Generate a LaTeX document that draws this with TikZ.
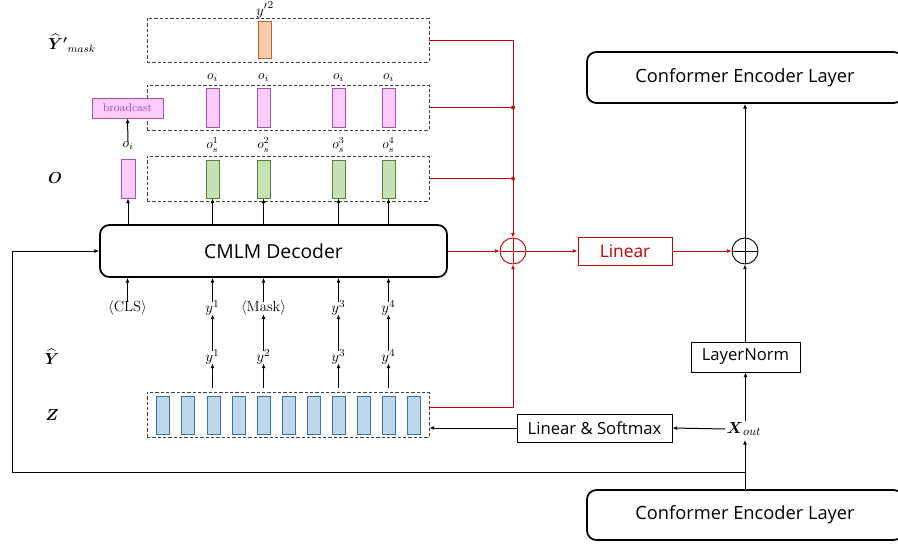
\documentclass[tikz,border=0pt]{standalone}
\usepackage{amsmath}
\usepackage{fontspec}
\setsansfont{Open Sans}
\usetikzlibrary{arrows.meta}
\definecolor{redl}{HTML}{C00000}
\definecolor{pinkF}{HTML}{FFCCFF}
\definecolor{pinkB}{HTML}{A050C8}
\definecolor{greenF}{HTML}{C5E0B4}
\definecolor{greenB}{HTML}{548235}
\definecolor{blueF}{HTML}{BDD7EE}
\definecolor{blueB}{HTML}{41719C}
\definecolor{orangeF}{HTML}{F8CBAD}
\definecolor{orangeB}{HTML}{B5642A}
\begin{document}
\begin{tikzpicture}[x=0.75pt,y=-0.75pt,
  >={Latex[length=3.5pt,width=3pt]},
  bar/.style={draw, line width=0.7pt, minimum width=13*0.75pt, minimum height=38*0.75pt, inner sep=0pt},
  pinkbar/.style={bar, fill=pinkF, draw=pinkB},
  greenbar/.style={bar, fill=greenF, draw=greenB},
  bluebar/.style={bar, fill=blueF, draw=blueB},
  orangebar/.style={bar, fill=orangeF, draw=orangeB, minimum height=37*0.75pt},
  dbox/.style={draw=black!75, dash pattern=on 2.5pt off 1.5pt, line width=0.6pt, minimum width=282*0.75pt, minimum height=45*0.75pt, inner sep=0pt},
  bigbox/.style={draw, line width=1.3pt, rounded corners=7pt, inner sep=0pt, font=\sffamily\fontsize{13.7}{16}\selectfont},
  plainbox/.style={draw, line width=0.7pt, inner sep=0pt, font=\sffamily\fontsize{12.5}{15}\selectfont},
  oplus/.style={circle, draw, line width=0.7pt, minimum size=26*0.75pt, inner sep=0pt,
     path picture={\draw[line width=0.7pt] (path picture bounding box.north) -- (path picture bounding box.south)
       (path picture bounding box.west) -- (path picture bounding box.east);}},
  lbl/.style={inner sep=0pt, font=\fontsize{10}{12}\selectfont},
  tok/.style={inner sep=0pt, font=\fontsize{11}{13}\selectfont},
  side/.style={inner sep=0pt, font=\fontsize{11.5}{13}\selectfont},
  arr/.style={->, line width=0.75pt},
  rarr/.style={->, line width=0.75pt, draw=redl},
  rline/.style={line width=0.75pt, draw=redl},
  dot/.style={circle, fill=redl, inner sep=0pt, minimum size=4*0.75pt}
]
\useasboundingbox (0,0) rectangle (898,546);

% side labels
\node[side] (lym) at (72,43) {$\boldsymbol{\widehat{Y}'}_{mask}$};
\node[side] (lo) at (55,178) {$\boldsymbol{O}$};
\node[side] (lyh) at (52,357) {$\boldsymbol{\widehat{Y}}$};
\node[side] (lz) at (52,415) {$\boldsymbol{Z}$};

% dashed boxes
\node[dbox, minimum height=44*0.75pt] (ymbox) at (288,40) {};
\node[dbox] (bcbox) at (288,107.5) {};
\node[dbox] (obox) at (288,178.5) {};
\node[dbox] (zbox) at (288,414.5) {};

% Y' mask row
\node[orangebar] (ym) at (264.5,39.5) {};
\node[lbl, font=\fontsize{11}{13}\selectfont, anchor=north] (lym2) at (265,1) {${y'}^{2}$};

% broadcast row
\node[pinkbar, minimum height=39*0.75pt] (bb1) at (212.5,107.5) {};
\node[pinkbar, minimum height=39*0.75pt] (bb2) at (263.5,107.5) {};
\node[pinkbar, minimum height=39*0.75pt] (bb3) at (338.5,107.5) {};
\node[pinkbar, minimum height=39*0.75pt] (bb4) at (388.5,107.5) {};
\node[lbl] (lb1) at (212.5,78) {$o_i$};
\node[lbl] (lb2) at (263.5,78) {$o_i$};
\node[lbl] (lb3) at (338.5,78) {$o_i$};
\node[lbl] (lb4) at (388.5,78) {$o_i$};
\node[draw=pinkB, fill=pinkF, line width=0.7pt, minimum width=71*0.75pt, minimum height=20*0.75pt, inner sep=0pt,
  text=pinkB!90!black, font=\fontsize{8.5}{10}\selectfont] (bc) at (127.5,108) {broadcast};

% O row
\node[pinkbar, minimum height=39*0.75pt, minimum width=14*0.75pt] (ob0) at (128,178.5) {};
\node[greenbar] (ob1) at (212.5,179) {};
\node[greenbar] (ob2) at (263.5,179) {};
\node[greenbar] (ob3) at (338.5,179) {};
\node[greenbar] (ob4) at (388.5,179) {};
\node[lbl] (lo0) at (128,146) {$o_i$};
\node[lbl] (lo1) at (212.5,145) {$o_s^1$};
\node[lbl] (lo2) at (263.5,145) {$o_s^2$};
\node[lbl] (lo3) at (338.5,145) {$o_s^3$};
\node[lbl] (lo4) at (388.5,145) {$o_s^4$};
\draw[arr] (lo0.north) -- (bc.south);

% decoder
\node[bigbox, minimum width=347*0.75pt, minimum height=52*0.75pt, font=\sffamily\fontsize{14.5}{17}\selectfont] (dec) at (273.5,251) {CMLM Decoder};
\draw[arr] (ob0 |- dec.north) -- (ob0.south);
\draw[arr] (ob1 |- dec.north) -- (ob1.south);
\draw[arr] (ob2 |- dec.north) -- (ob2.south);
\draw[arr] (ob3 |- dec.north) -- (ob3.south);
\draw[arr] (ob4 |- dec.north) -- (ob4.south);

% tokens
\node[tok] (t0) at (127.5,308) {$\langle$CLS$\rangle$};
\node[tok] (t1) at (212.5,308) {$y^1$};
\node[tok] (t2) at (263.5,308) {$\langle$Mask$\rangle$};
\node[tok] (t3) at (338.5,308) {$y^3$};
\node[tok] (t4) at (388.5,308) {$y^4$};
\foreach \i in {0,...,4}{\draw[arr] ([yshift=-1pt]t\i.north) -- (t\i |- dec.south);}
\node[tok] (h1) at (212.5,357) {$y^1$};
\node[tok] (h2) at (263.5,357) {$y^2$};
\node[tok] (h3) at (338.5,357) {$y^3$};
\node[tok] (h4) at (388.5,357) {$y^4$};
\foreach \i in {1,...,4}{\draw[arr] ([yshift=-1pt]h\i.north) -- ([yshift=1pt]t\i.south);}

% Z row
\foreach \x [count=\k] in {162.5,187.5,213.5,238.5,263.5,288.5,313.5,338.5,363.5,388.5,413.5}{
  \node[bluebar] (zb\k) at (\x,415) {};}
\foreach \i in {1,...,4}{\draw[arr] ([yshift=3pt]h\i |- zbox.north) -- ([yshift=1pt]h\i.south);}

% right side
\node[oplus, draw=redl, path picture={\draw[line width=0.7pt, redl] (path picture bounding box.north) -- (path picture bounding box.south)
       (path picture bounding box.west) -- (path picture bounding box.east);}] (op1) at (513,251) {};
\node[oplus] (op2) at (745,251) {};
\node[plainbox, draw=redl, text=redl, minimum width=94*0.75pt, minimum height=28*0.75pt, font=\sffamily\fontsize{13}{15}\selectfont] (lin) at (625,251) {Linear};
\node[bigbox, minimum width=316*0.75pt, minimum height=51*0.75pt] (ctop) at (745,77.5) {Conformer Encoder Layer};
\node[bigbox, minimum width=316*0.75pt, minimum height=50*0.75pt] (cbot) at (745,515) {Conformer Encoder Layer};
\node[plainbox, minimum width=109*0.75pt, minimum height=30*0.75pt] (ln) at (745.5,357) {LayerNorm};
\node[plainbox, minimum width=155*0.75pt, minimum height=28*0.75pt] (ls) at (594.5,428) {Linear \& Softmax};
\node[inner sep=1pt, font=\fontsize{13}{15}\selectfont] (xo) at (744,429) {$\boldsymbol{X}_{out}$};

% red connections
\draw[rarr] (ymbox.east) -| (op1.north);
\draw[rline] (bcbox.east) -- (bcbox.east -| op1) node[dot] (d1) {};
\draw[rline] (obox.east) -- (obox.east -| op1) node[dot] (d2) {};
\coordinate (zr) at (429,407);
\draw[rarr] (zr) -| (op1.south);
\draw[rarr] (dec.east) -- (op1.west);
\draw[rarr] (op1.east) -- (lin.west);
\draw[rarr] (lin.east) -- (op2.west);

% black connections
\draw[arr] (op2.north) -- (ctop.south);
\draw[arr] (ln.north -| op2) -- (op2.south);
\draw[arr] (xo.north -| ln) -- (ln.south);
\draw[arr] (xo.west) -- (ls.east);
\draw[arr] (ls.west) -- (ls.west -| zbox.east);
\coordinate (fb) at (745,472);
\coordinate (fbl) at (12,472);
\coordinate (fbt) at (12,251);
\draw[line width=0.75pt] (cbot.north) -- (fb);
\draw[arr] (fb) -- ([yshift=-2pt]xo.south -| fb);
\draw[arr] (fb) -- (fbl) -- (fbt) -- (dec.west);
\end{tikzpicture}
\end{document}
